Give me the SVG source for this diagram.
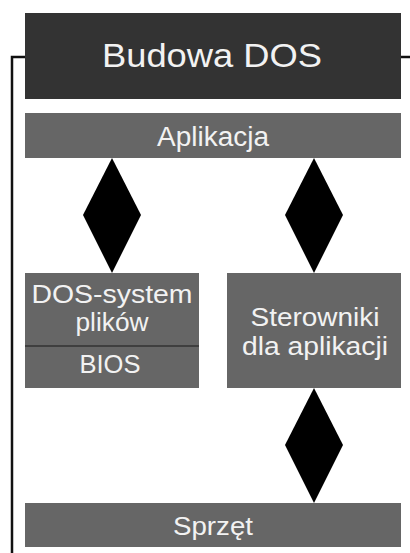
<svg xmlns="http://www.w3.org/2000/svg" width="410" height="553" viewBox="0 0 410 553">
<style>
.t{font-family:"Liberation Sans",Arial,sans-serif;fill:#f2f2f2;text-anchor:middle}
.box{fill:#666666}
.dia{fill:#000}
.ln{stroke:#111;stroke-width:2.5;fill:none}
</style>
<rect width="410" height="553" fill="#fff"/>
<g id="connectors">
<path class="ln" d="M12 553 V57 H25"/>
<path class="ln" d="M401 57 H410"/>
<polygon class="dia" points="112,158 141,215 112,273 83,215"/>
<polygon class="dia" points="314,158 343,215 314,273 285,215"/>
<polygon class="dia" points="314,388 343,445 314,503 285,445"/>
</g>
<g id="title">
<rect x="25" y="13" width="376" height="86" fill="#333333"/>
<text class="t" x="212" y="67" font-size="34" textLength="220" lengthAdjust="spacingAndGlyphs">Budowa DOS</text>
</g>
<g id="aplikacja">
<rect class="box" x="25" y="113" width="376" height="45"/>
<text class="t" x="213" y="146" font-size="27" textLength="112" lengthAdjust="spacingAndGlyphs">Aplikacja</text>
</g>
<g id="dos">
<rect class="box" x="25" y="273" width="174" height="115"/>
<line x1="25" y1="346" x2="199" y2="346" stroke="#333" stroke-width="1.5"/>
<text class="t" x="112" y="303" font-size="25" textLength="161" lengthAdjust="spacingAndGlyphs">DOS-system</text>
<text class="t" x="112" y="331" font-size="25" textLength="73" lengthAdjust="spacingAndGlyphs">plików</text>
<text class="t" x="110" y="373" font-size="25" textLength="61" lengthAdjust="spacingAndGlyphs">BIOS</text>
</g>
<g id="sterowniki">
<rect class="box" x="227" y="273" width="174" height="115"/>
<text class="t" x="315" y="326" font-size="25" textLength="129" lengthAdjust="spacingAndGlyphs">Sterowniki</text>
<text class="t" x="315" y="355" font-size="25" textLength="146" lengthAdjust="spacingAndGlyphs">dla aplikacji</text>
</g>
<g id="sprzet">
<rect class="box" x="25" y="503" width="376" height="44"/>
<text class="t" x="213" y="535" font-size="26" textLength="80" lengthAdjust="spacingAndGlyphs">Sprzęt</text>
</g>
</svg>
